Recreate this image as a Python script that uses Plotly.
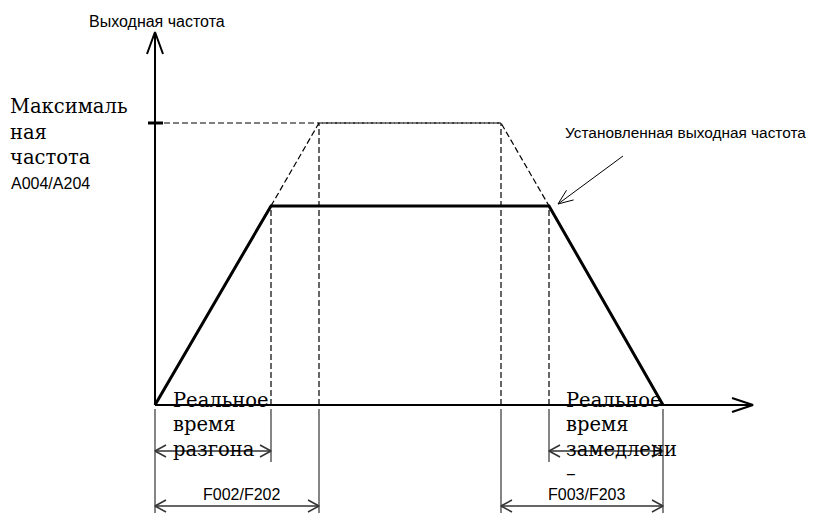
import numpy as np
import plotly.graph_objs as go

# Time points (arbitrary units) and output frequency (% of maximum)
t_real_acc = 2.32      # real acceleration end
t_set_acc = 3.28       # set acceleration time F002/F202
t_set_dec = 6.92       # start of set deceleration
t_real_dec = 7.88      # start of real deceleration
t_end = 10.16          # stop
f_max = 100.0          # A004/A204
f_set = 70.6           # set output frequency

t_actual = [0, t_real_acc, t_real_dec, t_end]
f_actual = [0, f_set, f_set, 0]
t_ideal = [t_real_acc, t_set_acc, t_set_dec, t_real_dec]
f_ideal = [f_set, f_max, f_max, f_set]

# Pixel mapping of the drawing (screen pixels, page body has an 8px margin)
W, H = 814, 513
PAGE_MARGIN = 8
X_ORIGIN, Y_ORIGIN = 155, 405
SX, SY = 50.0, 2.82


def px_x(p):
    return (p - X_ORIGIN) / SX


def px_y(p):
    return (Y_ORIGIN - p) / SY


def to_px(x, y):
    return X_ORIGIN + x * SX, Y_ORIGIN - y * SY


def line(fig, xs, ys, width=1, color='black', dash=None):
    fig.add_trace(go.Scatter(x=xs, y=ys, mode='lines',
                             line=dict(color=color, width=width, dash=dash),
                             hoverinfo='skip', showlegend=False))


def chevron(fig, tip, frm, length, half, width=1.5, color='black'):
    # open "V" arrowhead at data point tip, pointing away from frm
    tx, ty = to_px(*tip)
    fx, fy = to_px(*frm)
    d = np.array([tx - fx, ty - fy])
    d = d / np.linalg.norm(d)
    n = np.array([-d[1], d[0]])
    w1 = np.array([tx, ty]) - length * d + half * n
    w2 = np.array([tx, ty]) - length * d - half * n
    xs = [px_x(w1[0]), tip[0], px_x(w2[0])]
    ys = [px_y(w1[1]), tip[1], px_y(w2[1])]
    line(fig, xs, ys, width=width, color=color)


fig = go.Figure()

dash = '6px,3px'

# dashed guides for maximum frequency
line(fig, [0, t_set_dec], [f_max, f_max], width=1.2, dash=dash)
line(fig, t_ideal, f_ideal, width=1.2, dash=dash)
for t, f in [(t_real_acc, f_set), (t_set_acc, f_max),
             (t_set_dec, f_max), (t_real_dec, f_set)]:
    line(fig, [t, t], [0, f], width=1.2, dash=dash)

# axes
y_top = px_y(32)
x_right = px_x(753)
line(fig, [0, 0], [0, y_top], width=2)
line(fig, [0, x_right], [0, 0], width=2)
chevron(fig, (0, y_top), (0, 0), 22, 8, width=2)
chevron(fig, (x_right, 0), (0, 0), 21, 7, width=2)
line(fig, [px_x(148), px_x(163)], [f_max, f_max], width=3)

# actual output frequency
line(fig, t_actual, f_actual, width=3)

# dimension lines below the time axis
y_ext0 = px_y(409)
y_short = px_y(462)
y_long = px_y(513)
y_dim1 = px_y(451)
y_dim2 = px_y(506)
dim_col = '#333333'
for t in [0, t_set_acc, t_set_dec, t_end]:
    line(fig, [t, t], [y_ext0, y_long], width=1.2, color=dim_col)
for t in [t_real_acc, t_real_dec]:
    line(fig, [t, t], [y_ext0, y_short], width=1.2, color=dim_col)

for a, b, y in [(0, t_real_acc, y_dim1), (t_real_dec, t_end, y_dim1),
                (0, t_set_acc, y_dim2), (t_set_dec, t_end, y_dim2)]:
    line(fig, [a, b], [y, y], width=1.5, color=dim_col)
    chevron(fig, (a, y), (b, y), 11, 6, width=1.5, color=dim_col)
    chevron(fig, (b, y), (a, y), 11, 6, width=1.5, color=dim_col)

# pointer to set output frequency
p_from = (px_x(623), px_y(156))
p_tip = (px_x(558), px_y(204))
line(fig, [p_from[0], p_tip[0]], [p_from[1], p_tip[1]], width=1)
chevron(fig, p_tip, p_from, 15, 6, width=1)

sans = dict(family='Liberation Sans, Arial, sans-serif', size=16, color='black')
sans_s = dict(family='Liberation Sans, Arial, sans-serif', size=15.4, color='black')
serif = dict(family='DejaVu Serif, serif', size=19.5, color='black')

annotations = []
FW, FH = W - PAGE_MARGIN, H - PAGE_MARGIN


def text(s, xp, yp, font, anchor='left'):
    # positions given in screen pixels, placed in paper coordinates
    annotations.append(dict(x=(xp - PAGE_MARGIN) / FW,
                            y=1 - (yp - PAGE_MARGIN) / FH,
                            xref='paper', yref='paper', text=s, showarrow=False,
                            xanchor=anchor, yanchor='middle', font=font))


text('Выходная частота', 157, 21, sans, 'center')
text('Максималь', 8, 107, serif)
text('ная', 8, 132, serif)
text('частота', 8, 157, serif)
text('A004/A204', 9, 183, sans)
text('Установленная выходная частота', 563, 132, sans_s)
for i, s in enumerate(['Реальное', 'время', 'разгона']):
    text(s, 171, 400 + 24.5 * i, serif)
for i, s in enumerate(['Реальное', 'время', 'замедлени', '–']):
    text(s, 564, 400 + 24.5 * i, serif)
text('F002/F202', 241, 494, sans, 'center')
text('F003/F203', 586, 494, sans, 'center')

fig.update_layout(
    width=FW, height=FH,
    margin=dict(l=0, r=0, t=0, b=0),
    paper_bgcolor='white', plot_bgcolor='white',
    xaxis=dict(range=[px_x(PAGE_MARGIN), px_x(W)], visible=False, fixedrange=True),
    yaxis=dict(range=[px_y(H), px_y(PAGE_MARGIN)], visible=False, fixedrange=True),
    annotations=annotations,
    showlegend=False,
)

fig.write_html("out.html")
